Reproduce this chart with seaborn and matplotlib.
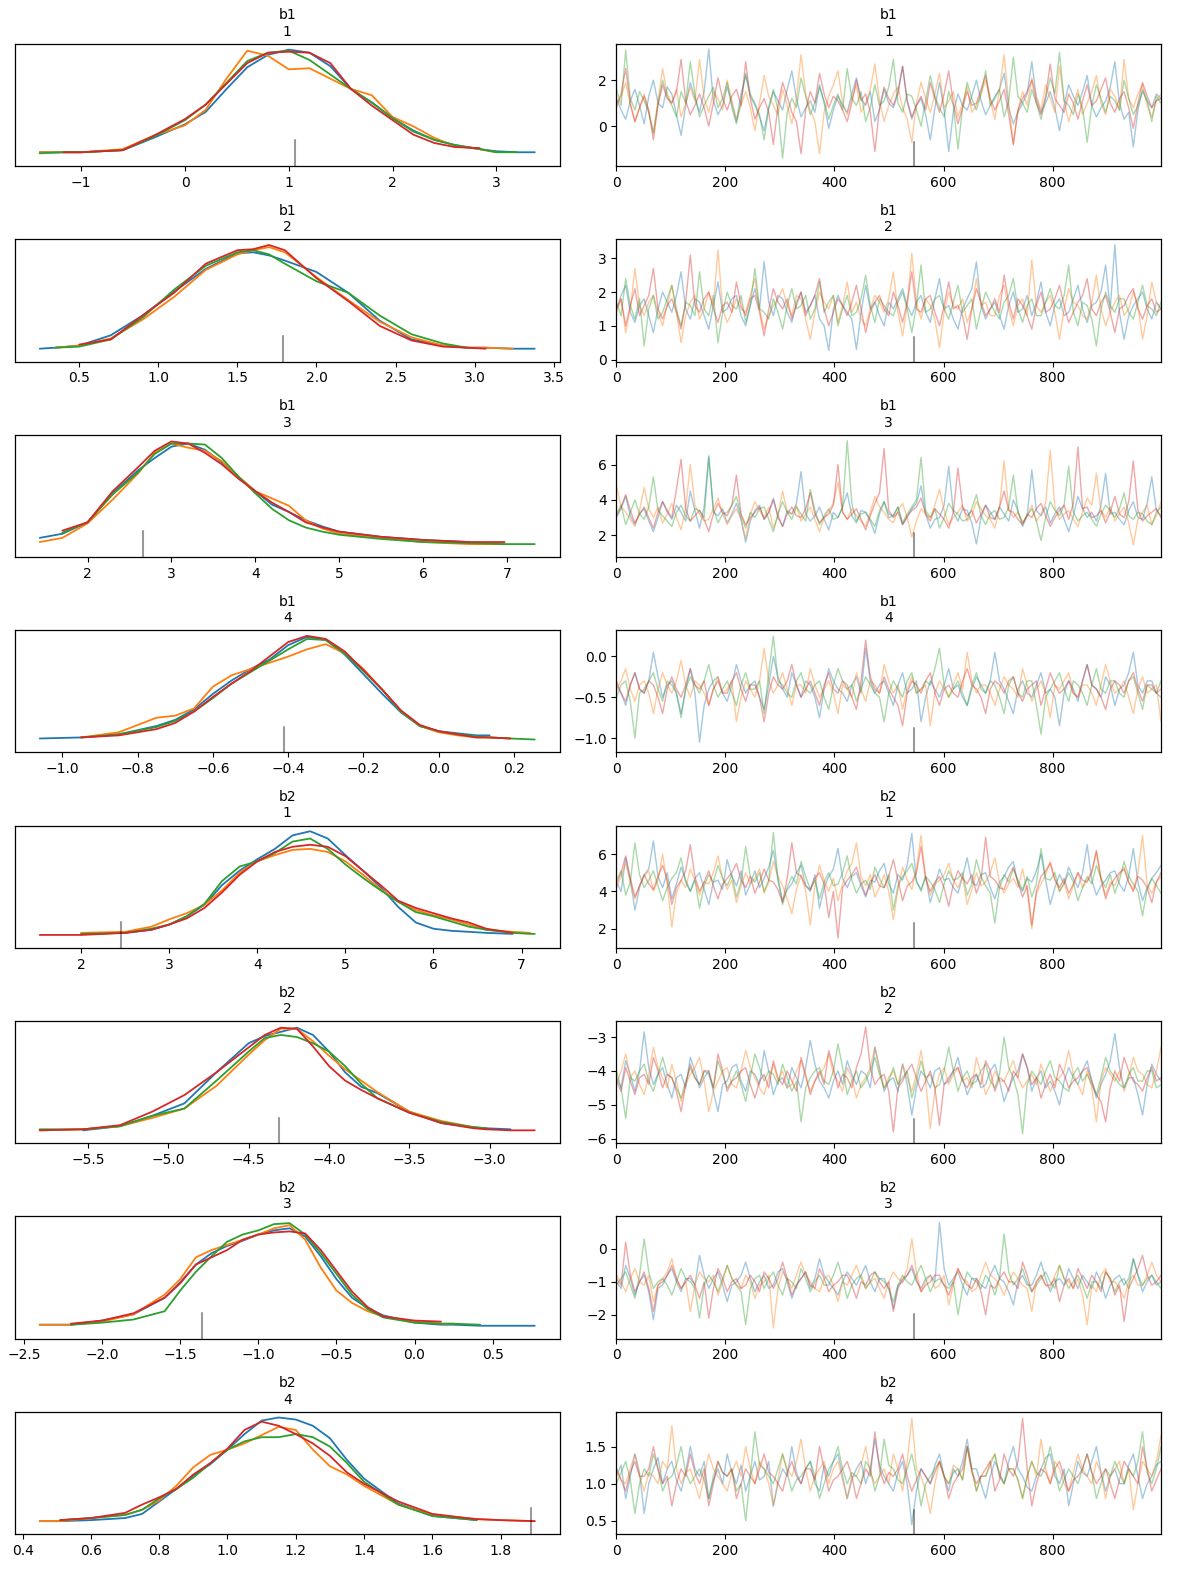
import numpy as np
import pandas as pd
import matplotlib
matplotlib.use("Agg")
import matplotlib.pyplot as plt
import seaborn as sns

sns.set_style("ticks", {"axes.edgecolor": "black", "xtick.color": "black",
                        "ytick.color": "black", "text.color": "black"})
plt.rcParams["font.family"] = ["DejaVu Sans"]
plt.rcParams["font.size"] = 10

chains = ["0", "1", "2", "3"]
palette = ["#1f77b4", "#ff7f0e", "#2ca02c", "#d62728"]

var_names = ["b1", "b1", "b1", "b1", "b2", "b2", "b2", "b2"]
var_index = ["1", "2", "3", "4", "1", "2", "3", "4"]

# divergent sample: draw index and its value for each parameter
div_draw = 545
div_value = [1.06, 1.79, 2.66, -0.41, 2.45, -4.31, -1.36, 1.89]

# y limits of the trace panels
trace_ylim = [(-1.74, 3.57), (-0.06, 3.56), (0.77, 7.68), (-1.175, 0.32),
              (0.98, 7.52), (-6.13, -2.53), (-2.72, 0.98), (0.322, 1.967)]

# ---- KDE curves, heights relative to the tallest peak (=100) ----
N = None
kde_b1_1_x = [-1.4, -1.17, -1.0, -0.6, -0.3, 0.0, 0.2, 0.4, 0.6, 0.8, 1.0, 1.2, 1.4, 1.6, 1.8, 2.0, 2.2, 2.4, 2.6, 2.84, 3.0, 3.2, 3.37]
kde_b1_1 = [
    [1, 1, 1, 3, 15, 28, 40, 62, 83, 95, 100, 97, 84, 62, 49, 34, 22, 13, 8, 4, 2, 1, 1],
    [1, 1, 1, 4, 17, 27, 42, 72, 99, 94, 81, 82, 72, 62, 56, 35, 26, 15, 7, 4, 1, N, N],
    [0, 1, 1, 3, 16, 32, 47, 68, 89, 97, 99, 90, 76, 62, 49, 34, 21, 13, 8, 4, 1, 1, N],
    [N, 1, 1, 3, 17, 33, 47, 67, 87, 97, 98, 97, 87, 62, 46, 32, 18, 10, 6, 5, N, N, N],
]
kde_b1_2_x = [0.25, 0.35, 0.5, 0.7, 0.9, 1.1, 1.3, 1.5, 1.6, 1.7, 1.8, 2.0, 2.2, 2.4, 2.6, 2.8, 2.95, 3.07, 3.24, 3.38]
kde_b1_2 = [
    [0, 1, 3, 13, 32, 55, 77, 92, 93, 90, 85, 74, 54, 27, 9, 3, 1, 1, 0, 0],
    [N, 1, 3, 10, 28, 50, 76, 91, 95, 98, 93, 69, 47, 26, 11, 3, 1, 1, 0, N],
    [N, 1, 2, 9, 30, 57, 80, 93, 95, 91, 82, 65, 54, 32, 14, 5, 1, N, N, N],
    [N, N, 4, 9, 32, 54, 82, 95, 96, 100, 95, 68, 46, 22, 8, 2, 1, 0, N, N],
]
kde_b1_3_x = [1.43, 1.7, 2.0, 2.3, 2.6, 2.8, 3.0, 3.2, 3.4, 3.6, 3.8, 4.0, 4.2, 4.4, 4.6, 4.8, 5.0, 5.5, 6.0, 6.55, 6.97, 7.33]
kde_b1_3 = [
    [6, 10, 21, 49, 71, 83, 94, 97, 91, 79, 65, 51, 38, 31, 23, 17, 12, 7, 4, 2, N, N],
    [2, 6, 20, 43, 68, 88, 97, 93, 90, 80, 65, 51, 44, 37, 23, 15, 10, 6, 2, 0, 0, N],
    [N, 11, 21, 48, 69, 87, 97, 97, 96, 83, 65, 49, 34, 23, 16, 12, 9, 5, 2, 1, 0, 0],
    [N, 13, 21, 51, 74, 90, 99, 97, 88, 77, 63, 51, 40, 31, 21, 16, 12, 7, 4, 2, 2, N],
]
kde_b1_4_x = [-1.06, -0.95, -0.85, -0.75, -0.7, -0.65, -0.6, -0.55, -0.5, -0.45, -0.4, -0.35, -0.3, -0.25, -0.2, -0.15, -0.1, -0.05, 0.0, 0.05, 0.1, 0.135, 0.19, 0.255]
kde_b1_4 = [
    [1, 2, 5, 13, 19, 29, 44, 57, 68, 77, 91, 99, 96, 82, 63, 44, 26, 13, 8, 6, 4, 4, N, N],
    [N, 2, 7, 21, 23, 30, 51, 62, 68, 74, 80, 87, 92, 83, 68, 48, 27, 13, 7, 4, 2, 2, 1, N],
    [N, 2, 5, 12, 18, 27, 40, 54, 65, 76, 87, 97, 96, 83, 66, 48, 27, 13, 8, 5, 3, 2, 1, 0],
    [N, 2, 4, 10, 16, 27, 41, 54, 66, 80, 94, 100, 97, 85, 67, 48, 28, 14, 8, 5, 2, 2, 1, N],
]
kde_b2_1_x = [1.53, 2.0, 2.5, 2.8, 3.0, 3.2, 3.4, 3.6, 3.8, 4.0, 4.2, 4.4, 4.6, 4.8, 5.0, 5.2, 5.4, 5.6, 5.8, 6.0, 6.2, 6.4, 6.6, 6.9, 7.1, 7.15]
kde_b2_1 = [
    [N, 1, 2, 5, 10, 18, 29, 48, 62, 73, 83, 96, 100, 93, 77, 62, 46, 27, 12, 6, 4, 3, 2, 1, N, N],
    [N, 2, 3, 8, 15, 21, 29, 43, 60, 71, 77, 82, 83, 80, 71, 58, 44, 32, 24, 19, 15, 10, 5, 3, 2, N],
    [N, 1, 2, 6, 10, 18, 30, 52, 66, 71, 79, 90, 93, 83, 68, 55, 43, 32, 22, 18, 13, 8, 5, 2, 1, 1],
    [0, 0, 2, 5, 10, 16, 26, 41, 58, 71, 80, 85, 87, 85, 76, 62, 48, 33, 26, 21, 16, 12, 6, 2, N, N],
]
kde_b2_2_x = [-5.8, -5.53, -5.3, -5.1, -4.9, -4.7, -4.5, -4.4, -4.3, -4.2, -4.1, -4.0, -3.9, -3.8, -3.7, -3.5, -3.3, -3.1, -3.02, -2.87, -2.72]
kde_b2_2 = [
    [N, 0, 4, 14, 26, 56, 84, 91, 95, 99, 92, 76, 56, 42, 36, 18, 7, 3, 2, 1, N],
    [0, 1, 4, 12, 21, 43, 73, 87, 98, 98, 86, 72, 59, 48, 37, 18, 9, 3, 1, N, N],
    [1, 1, 4, 14, 21, 48, 76, 89, 92, 90, 84, 76, 62, 45, 31, 17, 8, 3, 2, N, N],
    [0, 1, 5, 18, 34, 56, 80, 92, 99, 98, 81, 62, 48, 39, 31, 17, 7, 2, 1, 0, 0],
]
kde_b2_3_x = [-2.4, -2.2, -2.0, -1.8, -1.6, -1.5, -1.4, -1.3, -1.2, -1.1, -1.0, -0.9, -0.8, -0.7, -0.6, -0.5, -0.4, -0.3, -0.2, 0.0, 0.17, 0.25, 0.42, 0.6, 0.77]
kde_b2_3 = [
    [1, 1, 5, 11, 27, 42, 59, 70, 77, 82, 88, 92, 94, 86, 67, 45, 27, 17, 10, 3, 1, 1, 0, 0, 0],
    [1, 1, 4, 11, 30, 45, 66, 73, 78, 83, 88, 94, 97, 83, 56, 34, 22, 14, 9, 4, 2, 2, N, N, N],
    [N, 1, 3, 6, 14, 34, 52, 67, 81, 88, 92, 98, 99, 88, 70, 50, 30, 16, 8, 3, 2, 2, 1, N, N],
    [N, 2, 5, 12, 27, 41, 59, 66, 73, 83, 88, 90, 91, 89, 73, 53, 33, 18, 9, 5, 4, N, N, N, N],
]
kde_b2_4_x = [0.45, 0.51, 0.6, 0.7, 0.75, 0.8, 0.85, 0.9, 0.95, 1.0, 1.05, 1.1, 1.15, 1.2, 1.25, 1.3, 1.35, 1.4, 1.5, 1.6, 1.7, 1.73, 1.8, 1.9]
kde_b2_4 = [
    [0, 0, 1, 3, 7, 19, 31, 44, 55, 69, 84, 97, 100, 98, 92, 80, 59, 41, 17, 5, 2, 1, N, N],
    [0, 0, 3, 6, 11, 20, 34, 52, 64, 69, 75, 83, 91, 88, 69, 53, 45, 34, 16, 6, 3, 2, 1, 0],
    [N, 1, 3, 6, 11, 22, 31, 42, 56, 69, 77, 81, 81, 84, 81, 72, 56, 38, 16, 5, 2, 1, N, N],
    [N, 1, 3, 8, 16, 23, 31, 45, 56, 70, 88, 96, 92, 84, 75, 63, 47, 36, 19, 7, 3, 2, 1, 0],
]

# ---- chain traces, coarse reading (about every 8 draws) ----
trace_b1_1 = [
    [1.2, 0.7, 0.3, 1.1, 1.6, 0.9, 0.1, 1.3, 2.0, 1.0, 0.8, 1.7, 1.4, 0.5, -0.4, 0.9, 1.9, 1.2, 0.6, 1.5, 3.35, 1.1, 0.5, 0.9, 1.7, 1.0, 0.2, 1.4, 2.2, 1.3, 0.9, 0.4, -0.2, 0.8, 1.5, 1.1, 0.7, 1.6, 2.4, 1.2, 0.4, 0.8, 1.1, 0.6, 1.8, 1.0, -0.1, 0.7, 1.3, 0.9, 0.6, 1.4, 2.1, 1.2, 0.9, 1.5, 0.2, 0.7, 1.6, 1.0, 0.8, 1.4, 2.6, 1.1, 0.3, 0.9, 1.2, 0.5, -0.6, 0.8, 1.9, 0.7, -1.1, 0.6, 1.4, 0.9, 0.7, 1.3, 2.0, 1.1, 0.5, 0.9, 1.3, 1.6, 2.3, 0.8, 0.1, 0.6, 1.0, 1.4, 2.8, 1.2, 0.6, 1.0, 1.5, 0.8, -0.2, 0.9, 1.8, 1.3, 0.9, 1.5, 2.2, 0.9, 0.4, 0.8, 1.1, 1.7, 2.8, 1.0, 0.3, 0.6, -0.9, 0.7, 1.6, 1.1, 0.8, 1.4, 1.2],
    [0.8, 1.3, 1.9, 0.9, 0.2, 0.8, 1.4, 0.6, -0.3, 1.1, 2.5, 1.4, 1.0, 1.6, 0.4, 1.0, 1.7, 1.1, 2.9, 1.2, 0.6, 1.5, 1.2, 0.7, 2.0, 1.1, 0.3, 0.9, 1.5, 0.8, -0.2, 1.0, 2.2, 1.3, 0.9, 0.5, 1.6, 0.9, 0.1, 1.2, 3.1, 1.4, 0.7, 0.2, -1.2, 0.6, 1.3, 1.8, 2.4, 1.0, 0.5, 1.2, 1.8, 0.6, 1.0, 1.6, 2.7, 1.1, 0.2, 0.9, 1.4, 1.7, 0.8, 0.3, -0.7, 1.0, 1.9, 1.2, 0.6, 1.4, 2.3, 0.8, 1.1, 1.5, 0.4, 1.0, 1.7, 0.6, 0.9, 1.4, 2.0, 1.1, 0.3, 1.6, 3.1, 1.0, -0.8, 0.7, 1.5, 0.9, 2.1, 1.3, 0.7, 1.8, 1.2, 0.6, 2.6, 1.1, 0.2, 0.9, 1.6, 0.5, 1.0, 1.5, 2.2, 1.0, 0.5, 1.6, 1.3, 0.7, 2.9, 1.2, 0.8, 1.4, 1.8, 0.9, 0.4, 1.1, 1.4],
    [1.6, 0.9, 3.3, 1.2, 0.7, 1.5, 1.1, 0.6, -0.3, 1.0, 2.0, 1.3, 0.9, 0.4, 1.5, 1.0, 2.8, 1.4, 0.4, 0.9, 1.3, 1.7, 0.8, 1.2, 1.9, 0.8, 0.1, 1.1, 2.3, 1.4, 1.0, 0.5, -0.6, 0.8, 1.6, 0.7, -1.4, 0.6, 1.2, 0.8, 2.1, 1.3, 0.5, 1.0, 1.7, 1.1, 0.3, 0.9, 1.4, 0.7, 2.5, 1.2, 0.9, 1.5, 0.2, 0.8, 1.8, 0.9, 1.1, 1.7, 2.9, 1.0, 0.6, 1.4, 1.3, 0.7, 0.0, 1.1, 2.2, 1.3, 0.8, 0.4, 1.5, 0.9, -1.0, 0.8, 1.9, 1.2, 0.7, 1.4, 2.4, 0.9, 1.2, 1.6, 0.4, 1.1, 3.0, 1.3, 1.0, 0.6, 1.6, 1.0, 0.3, 1.2, 2.1, 1.4, 3.2, 1.1, 0.9, 0.5, 1.4, 0.8, -0.7, 0.9, 1.8, 1.2, 0.6, 1.3, 1.1, 0.7, 2.0, 1.2, 0.5, 0.9, 1.5, 1.1, 0.2, 1.3, 1.0],
    [0.9, 1.4, 2.5, 1.0, 0.2, 0.8, 1.3, 0.7, -0.6, 0.9, 1.8, 1.2, 1.0, 1.5, 2.9, 1.1, 0.5, 0.9, 1.4, 0.8, 0.0, 1.0, 2.1, 1.2, 0.7, 1.3, 1.6, 0.9, 2.8, 1.2, 0.3, 0.8, 1.2, 0.6, -0.8, 0.9, 1.9, 1.3, 0.6, 0.2, -1.2, 0.7, 1.5, 1.0, 2.3, 1.4, 0.8, 1.3, 1.1, 0.7, 0.2, 1.0, 2.0, 1.1, 1.4, 0.6, -1.1, 0.8, 1.7, 1.2, 0.9, 1.5, 2.6, 1.1, 0.4, 0.9, 1.3, 0.7, 1.9, 1.2, 0.6, 1.4, 2.4, 1.0, 0.1, 0.8, 1.5, 0.9, 1.0, 1.6, 2.2, 1.2, 0.7, 1.1, 1.6, 0.5, -0.8, 0.7, 1.2, 1.5, 2.0, 1.0, 0.5, 1.3, 2.7, 1.2, 0.9, 0.6, 1.4, 1.0, 0.3, 1.1, 1.8, 0.9, 1.1, 1.6, 2.1, 1.0, 0.6, 1.2, 1.5, 0.8, -0.1, 1.0, 1.9, 1.3, 0.8, 1.1, 1.2],
]
trace_b1_2 = [
    [1.5, 1.9, 2.2, 1.4, 1.1, 1.6, 1.8, 1.3, 0.8, 1.5, 2.0, 1.7, 1.4, 1.9, 2.6, 1.5, 1.2, 1.8, 1.7, 1.3, 0.9, 1.6, 2.3, 1.4, 1.5, 1.8, 1.9, 1.3, 1.0, 1.6, 2.1, 1.5, 2.9, 1.7, 1.3, 1.9, 1.8, 1.4, 1.1, 1.7, 2.0, 1.4, 1.6, 1.9, 1.2, 1.0, 0.27, 1.5, 1.9, 1.6, 1.4, 1.2, 0.3, 1.4, 2.2, 1.5, 1.7, 1.3, 1.0, 1.7, 1.5, 1.8, 2.1, 1.6, 1.3, 1.7, 1.9, 1.4, 1.1, 1.8, 2.4, 1.5, 1.6, 1.2, 0.9, 1.5, 1.8, 2.1, 2.9, 1.6, 1.2, 1.5, 1.7, 1.3, 0.9, 1.6, 2.0, 1.4, 1.5, 1.9, 1.3, 1.7, 2.3, 1.4, 1.0, 1.6, 1.8, 1.3, 1.4, 1.8, 2.2, 1.5, 1.1, 1.6, 1.7, 2.0, 2.8, 1.5, 3.4, 1.4, 0.6, 1.3, 1.6, 1.8, 2.0, 1.5, 1.2, 1.7, 1.5],
    [1.4, 1.8, 0.8, 1.5, 2.7, 1.6, 1.3, 1.7, 1.9, 1.4, 1.0, 1.6, 2.2, 1.4, 0.5, 1.3, 1.7, 1.9, 1.2, 1.5, 2.0, 1.6, 3.25, 1.5, 1.1, 1.4, 1.8, 1.5, 1.4, 1.9, 2.4, 1.5, 0.9, 1.3, 1.6, 1.8, 2.1, 1.6, 1.3, 1.9, 1.8, 1.2, 0.6, 1.4, 2.0, 1.7, 1.5, 1.9, 1.1, 1.6, 2.3, 1.4, 1.7, 1.2, 1.0, 1.5, 1.9, 1.7, 1.4, 1.8, 2.6, 1.4, 0.7, 1.6, 3.15, 1.7, 1.2, 1.8, 1.6, 1.2, 0.35, 1.4, 2.0, 1.6, 1.5, 1.8, 1.1, 1.5, 2.4, 1.6, 1.7, 1.3, 1.3, 1.9, 2.2, 1.5, 1.0, 1.6, 1.8, 1.3, 2.95, 1.6, 1.4, 1.7, 1.9, 1.4, 0.6, 1.5, 2.1, 1.7, 1.6, 1.3, 1.2, 1.7, 2.5, 1.5, 1.0, 1.4, 1.7, 1.9, 1.3, 1.5, 2.0, 1.6, 0.6, 1.3, 2.3, 1.7, 1.5],
    [1.7, 1.3, 2.4, 1.6, 1.2, 1.8, 0.4, 1.5, 1.9, 1.2, 1.4, 1.8, 2.2, 1.5, 1.0, 1.7, 1.6, 1.3, 2.6, 1.5, 1.3, 1.9, 0.5, 1.4, 2.0, 1.6, 1.5, 1.9, 1.1, 1.6, 2.7, 1.5, 1.4, 1.2, 1.8, 1.4, 0.9, 1.6, 2.1, 1.5, 1.6, 1.9, 1.2, 1.5, 2.3, 1.4, 1.7, 1.9, 1.0, 1.5, 1.9, 1.3, 1.4, 1.8, 2.5, 1.6, 1.1, 1.8, 1.6, 1.4, 1.3, 1.7, 2.0, 1.5, 0.8, 1.6, 2.8, 1.4, 1.5, 1.8, 1.9, 1.5, 1.2, 1.7, 2.2, 1.4, 1.6, 1.8, 0.9, 1.5, 2.0, 1.7, 1.4, 1.2, 1.7, 1.9, 2.4, 1.5, 1.1, 1.6, 1.8, 1.3, 1.3, 1.7, 2.1, 1.6, 1.5, 1.9, 2.8, 1.4, 1.0, 1.7, 1.6, 1.2, 0.4, 1.5, 2.0, 1.6, 1.4, 1.8, 1.8, 1.4, 1.2, 1.7, 2.2, 1.6, 1.5, 1.3, 1.7],
    [1.5, 1.8, 1.0, 1.6, 2.1, 1.3, 1.6, 1.9, 2.7, 1.5, 1.2, 1.6, 1.8, 1.4, 0.9, 1.7, 3.1, 1.6, 1.4, 1.8, 2.0, 1.5, 1.1, 1.6, 1.7, 1.4, 2.3, 1.6, 1.3, 1.8, 1.9, 1.4, 0.7, 1.5, 2.1, 1.7, 1.5, 1.8, 1.2, 1.6, 2.0, 1.3, 1.6, 1.9, 2.4, 1.5, 1.0, 1.4, 1.8, 1.6, 1.3, 1.7, 2.2, 1.5, 0.8, 1.4, 1.7, 1.9, 1.5, 1.3, 2.0, 1.6, 1.1, 1.7, 2.6, 1.5, 1.4, 1.8, 1.9, 1.4, 1.0, 1.6, 2.3, 1.5, 1.6, 1.3, 0.6, 1.5, 2.1, 1.7, 1.3, 1.5, 1.8, 1.4, 2.5, 1.7, 1.2, 1.8, 1.6, 1.3, 0.9, 1.6, 2.0, 1.4, 1.5, 1.8, 2.2, 1.6, 1.1, 1.4, 1.7, 1.9, 2.4, 1.5, 1.3, 1.7, 1.9, 1.4, 0.8, 1.5, 1.6, 1.9, 2.1, 1.5, 1.2, 1.6, 1.8, 1.4, 1.5],
]
trace_b1_3 = [
    [3.0, 3.5, 4.2, 3.1, 2.6, 3.2, 3.5, 2.8, 2.2, 3.0, 3.9, 3.3, 2.9, 3.7, 3.3, 2.8, 4.5, 3.4, 2.4, 3.6, 6.5, 3.3, 3.1, 3.5, 2.7, 3.2, 3.8, 2.9, 1.6, 2.8, 3.4, 3.7, 2.9, 3.3, 4.1, 3.0, 2.5, 3.4, 3.2, 3.8, 5.6, 3.2, 2.8, 3.1, 3.6, 2.9, 2.3, 3.3, 3.0, 3.6, 4.4, 3.1, 2.7, 3.4, 3.3, 2.8, 2.1, 3.2, 3.9, 3.0, 3.1, 3.6, 2.6, 3.0, 3.5, 3.8, 4.8, 3.2, 2.4, 2.9, 3.0, 3.7, 5.9, 3.3, 2.8, 3.5, 3.4, 2.7, 1.5, 3.0, 3.7, 3.3, 2.9, 3.6, 3.2, 2.8, 4.0, 3.4, 2.5, 3.1, 5.7, 3.4, 3.1, 3.6, 2.7, 3.2, 3.6, 2.9, 2.2, 3.1, 4.2, 3.5, 3.0, 3.3, 2.8, 3.7, 5.5, 3.2, 3.3, 2.9, 2.6, 3.4, 3.9, 3.0, 2.9, 3.8, 5.3, 3.4, 3.1],
    [4.8, 3.6, 3.3, 2.9, 2.5, 3.4, 4.7, 3.5, 3.0, 3.6, 2.7, 3.2, 3.8, 3.0, 2.3, 3.5, 6.0, 3.7, 3.2, 2.8, 2.9, 3.5, 4.1, 3.2, 2.6, 3.1, 3.5, 2.9, 1.8, 3.2, 3.9, 3.4, 3.0, 3.6, 2.4, 3.1, 4.5, 3.3, 3.2, 3.7, 2.8, 3.2, 3.6, 2.9, 2.2, 3.0, 3.4, 3.8, 5.0, 3.3, 2.9, 3.5, 3.1, 2.8, 2.5, 3.3, 4.2, 3.6, 3.3, 2.9, 2.7, 3.4, 3.8, 3.0, 1.9, 2.8, 3.5, 3.2, 3.0, 3.7, 4.6, 3.4, 2.6, 3.0, 3.3, 3.7, 2.8, 3.1, 3.9, 3.5, 3.1, 2.9, 2.4, 3.6, 6.2, 3.5, 3.0, 3.3, 2.7, 3.1, 3.7, 2.8, 3.2, 3.8, 6.8, 3.6, 2.9, 3.2, 3.4, 2.9, 2.5, 3.3, 4.1, 3.7, 5.5, 3.4, 3.0, 3.6, 2.8, 3.2, 3.6, 2.7, 1.45, 2.9, 3.3, 3.7, 2.6, 3.1, 3.9],
    [3.2, 3.7, 2.6, 3.3, 4.0, 3.2, 2.9, 3.6, 5.3, 3.4, 3.1, 2.8, 2.5, 3.3, 3.7, 3.1, 2.8, 3.5, 3.4, 3.0, 6.4, 3.5, 2.7, 3.2, 3.3, 3.7, 4.2, 3.1, 2.4, 3.3, 3.0, 3.5, 3.6, 2.9, 2.2, 3.2, 3.9, 3.3, 2.9, 3.6, 3.2, 2.8, 4.6, 3.4, 2.6, 3.1, 3.5, 2.9, 3.0, 3.6, 7.35, 3.8, 2.8, 3.2, 3.3, 2.9, 2.5, 3.4, 3.9, 3.2, 3.1, 3.6, 2.7, 3.2, 3.6, 4.0, 6.4, 3.4, 3.0, 3.5, 2.4, 3.0, 3.8, 3.4, 3.2, 2.8, 2.9, 3.5, 4.3, 3.1, 2.6, 3.2, 3.4, 2.9, 3.0, 3.6, 5.4, 3.3, 2.7, 3.1, 3.5, 2.8, 1.7, 3.0, 3.9, 3.4, 3.1, 3.7, 5.9, 3.3, 2.8, 3.1, 3.3, 2.9, 2.5, 3.2, 3.7, 3.4, 3.0, 3.5, 4.4, 3.1, 2.9, 3.3, 3.2, 2.8, 2.6, 3.3, 3.6],
    [3.1, 3.6, 4.3, 3.4, 2.7, 3.2, 3.6, 3.0, 2.4, 3.3, 3.9, 3.4, 3.0, 4.6, 6.3, 3.5, 2.8, 3.1, 3.4, 2.9, 2.2, 3.2, 3.8, 3.3, 3.1, 3.7, 5.4, 3.2, 2.6, 3.0, 3.3, 3.6, 2.9, 3.3, 4.0, 3.1, 2.5, 3.2, 3.6, 3.1, 3.0, 3.5, 4.4, 3.2, 2.7, 3.0, 3.2, 3.7, 6.0, 3.3, 2.9, 3.2, 3.5, 2.9, 2.3, 3.1, 3.8, 4.4, 6.9, 3.4, 3.0, 3.3, 2.6, 3.1, 3.4, 3.6, 4.1, 3.2, 2.8, 3.5, 3.2, 2.9, 2.4, 3.3, 5.8, 3.6, 3.1, 3.4, 2.7, 3.2, 3.7, 3.0, 2.9, 3.6, 4.5, 3.4, 3.3, 2.9, 2.6, 3.2, 3.0, 3.5, 3.8, 3.1, 2.5, 3.0, 3.4, 3.7, 2.9, 3.8, 7.0, 3.5, 3.6, 3.0, 3.1, 3.4, 2.7, 3.3, 4.2, 3.2, 3.0, 3.9, 6.2, 3.4, 2.8, 3.1, 3.3, 3.5, 3.0],
]
trace_b1_4 = [
    [-0.35, -0.45, -0.6, -0.35, -0.2, -0.4, -0.45, -0.3, 0.05, -0.25, -0.5, -0.35, -0.3, -0.45, -0.7, -0.4, -0.15, -0.45, -1.05, -0.6, -0.4, -0.3, -0.25, -0.45, -0.55, -0.35, -0.1, -0.3, -0.45, -0.35, -0.3, -0.5, -0.65, -0.35, 0.0, -0.25, -0.4, -0.5, -0.2, -0.35, -0.5, -0.3, -0.35, -0.5, -0.75, -0.4, -0.15, -0.3, -0.4, -0.45, -0.55, -0.35, -0.25, -0.45, 0.1, -0.3, -0.45, -0.35, -0.3, -0.45, -0.6, -0.35, -0.2, -0.45, -0.4, -0.3, -0.8, -0.5, -0.3, -0.4, -0.5, -0.35, -0.15, -0.4, -0.35, -0.5, -0.6, -0.4, -0.25, -0.35, -0.45, -0.3, 0.05, -0.3, -0.4, -0.55, -0.7, -0.4, -0.3, -0.45, -0.5, -0.35, -0.2, -0.45, -0.4, -0.5, -0.85, -0.45, -0.3, -0.4, -0.55, -0.3, -0.1, -0.35, -0.4, -0.5, -0.25, -0.35, -0.6, -0.4, -0.35, -0.2, 0.05, -0.35, -0.45, -0.3, -0.3, -0.45, -0.5],
    [-0.4, -0.3, -0.15, -0.4, -0.55, -0.35, -0.3, -0.45, -0.7, -0.4, -0.2, -0.35, -0.45, -0.3, -0.05, -0.35, -0.5, -0.3, -0.35, -0.45, -0.6, -0.4, -0.25, -0.45, -0.4, -0.3, -0.8, -0.5, -0.3, -0.4, -0.5, -0.3, 0.1, -0.3, -0.45, -0.35, -0.2, -0.4, -0.6, -0.35, -0.35, -0.45, -0.15, -0.35, -0.5, -0.4, -0.3, -0.45, -0.7, -0.35, -0.4, -0.5, -0.2, -0.4, -0.55, -0.3, -0.35, -0.45, -0.1, -0.3, -0.45, -0.35, -0.65, -0.4, -0.25, -0.45, -0.4, -0.35, -0.85, -0.45, -0.3, -0.4, -0.5, -0.35, -0.2, -0.4, 0.05, -0.3, -0.45, -0.35, -0.35, -0.45, -0.6, -0.4, -0.25, -0.35, -0.4, -0.5, -0.15, -0.35, -0.55, -0.4, -0.3, -0.45, -0.75, -0.35, -0.4, -0.3, -0.2, -0.45, -0.5, -0.35, -0.35, -0.45, -0.6, -0.35, -0.1, -0.3, -0.45, -0.4, -0.3, -0.5, -0.7, -0.4, -0.25, -0.45, -0.4, -0.35, -0.8],
    [-0.5, -0.35, -0.3, -0.55, -1.0, -0.45, -0.4, -0.3, -0.2, -0.4, -0.55, -0.3, -0.35, -0.45, -0.75, -0.4, -0.25, -0.35, -0.45, -0.3, -0.1, -0.35, -0.5, -0.4, -0.3, -0.45, -0.6, -0.35, -0.2, -0.4, -0.4, -0.3, -0.7, -0.2, 0.25, -0.3, -0.35, -0.45, -0.5, -0.3, -0.2, -0.4, -0.45, -0.35, -0.3, -0.5, -0.65, -0.35, -0.15, -0.3, -0.4, -0.35, -0.55, -0.4, -0.25, -0.35, -0.45, -0.5, -0.8, -0.45, -0.3, -0.4, -0.5, -0.3, -0.2, -0.45, -0.4, -0.3, -0.35, -0.15, 0.1, -0.35, -0.5, -0.4, -0.3, -0.45, -0.6, -0.35, -0.2, -0.4, -0.45, -0.3, -0.35, -0.5, -0.7, -0.35, -0.25, -0.45, -0.5, -0.3, -0.3, -0.6, -0.95, -0.5, -0.4, -0.3, -0.2, -0.4, -0.55, -0.3, -0.35, -0.45, -0.6, -0.35, -0.15, -0.4, -0.45, -0.3, -0.3, -0.45, -0.5, -0.3, -0.25, -0.45, -0.65, -0.35, -0.4, -0.45, -0.3],
    [-0.3, -0.45, -0.55, -0.35, -0.2, -0.4, -0.45, -0.3, -0.35, -0.5, -0.7, -0.4, -0.25, -0.4, -0.5, -0.35, -0.15, -0.35, -0.4, -0.3, -0.6, -0.4, -0.3, -0.45, -0.45, -0.3, -0.2, -0.4, -0.55, -0.35, -0.35, -0.5, -0.8, -0.45, -0.25, -0.35, -0.4, -0.3, -0.1, -0.35, -0.5, -0.4, -0.3, -0.45, -0.6, -0.35, -0.2, -0.4, -0.45, -0.3, -0.35, -0.5, -0.65, -0.3, 0.2, -0.25, -0.4, -0.45, -0.25, -0.4, -0.5, -0.6, -0.85, -0.45, -0.3, -0.35, -0.45, -0.3, -0.2, -0.45, -0.6, -0.4, -0.35, -0.45, -0.5, -0.3, -0.15, -0.35, -0.4, -0.5, -0.7, -0.4, -0.3, -0.35, -0.45, -0.3, -0.25, -0.45, -0.55, -0.4, -0.35, -0.3, -0.6, -0.4, -0.2, -0.35, -0.45, -0.4, -0.3, -0.45, -0.5, -0.3, -0.1, -0.35, -0.4, -0.5, -0.65, -0.4, -0.3, -0.35, -0.45, -0.3, -0.2, -0.4, -0.55, -0.35, -0.35, -0.45, -0.4],
]
trace_b2_1 = [
    [4.5, 4.0, 5.8, 4.6, 3.0, 4.2, 4.9, 5.2, 6.7, 4.8, 4.2, 5.0, 3.6, 4.4, 5.3, 4.6, 4.0, 4.7, 5.0, 4.1, 3.3, 4.5, 4.6, 4.1, 5.7, 4.8, 4.3, 5.1, 3.8, 4.4, 5.1, 4.2, 4.7, 5.3, 6.2, 4.6, 3.5, 4.1, 4.4, 5.0, 5.4, 4.3, 4.0, 4.9, 3.1, 4.2, 4.8, 5.2, 6.3, 4.7, 4.2, 4.8, 5.0, 4.3, 3.7, 4.6, 4.5, 5.1, 5.5, 4.4, 3.9, 4.9, 4.6, 5.4, 7.1, 4.5, 4.1, 4.8, 3.4, 4.3, 5.2, 4.6, 4.7, 4.2, 3.9, 4.8, 5.8, 4.5, 4.3, 4.9, 5.0, 4.2, 3.6, 4.5, 4.8, 5.3, 5.6, 4.4, 4.0, 4.7, 4.5, 5.1, 6.0, 4.6, 3.3, 4.2, 4.9, 4.4, 5.3, 4.7, 4.2, 5.0, 6.5, 4.6, 3.8, 4.3, 4.6, 5.0, 5.1, 4.4, 4.0, 4.8, 6.3, 4.5, 3.5, 4.2, 4.7, 5.0, 5.4],
    [4.2, 4.8, 5.5, 4.5, 3.6, 4.3, 4.8, 5.1, 4.0, 4.6, 6.0, 4.4, 2.1, 3.9, 4.6, 4.2, 5.2, 4.6, 3.8, 4.5, 4.4, 5.0, 5.9, 4.7, 4.1, 4.6, 3.4, 4.3, 5.0, 4.4, 4.7, 5.2, 3.9, 4.5, 5.6, 4.8, 4.3, 3.6, 2.8, 4.1, 4.9, 4.0, 2.2, 4.3, 5.4, 4.6, 4.0, 4.7, 3.5, 4.4, 5.1, 5.5, 6.6, 4.8, 4.3, 4.9, 3.7, 4.2, 4.9, 4.0, 2.5, 4.1, 5.3, 4.6, 4.1, 5.2, 7.0, 4.7, 3.8, 4.4, 4.6, 4.9, 5.5, 4.6, 4.2, 4.8, 3.3, 4.1, 5.0, 4.3, 4.5, 5.0, 5.8, 4.5, 3.9, 4.4, 4.7, 4.2, 5.2, 4.0, 2.0, 3.9, 4.4, 4.9, 5.6, 4.7, 4.0, 4.5, 3.6, 4.3, 5.0, 4.2, 4.6, 5.1, 6.1, 4.6, 3.8, 4.5, 4.3, 4.9, 5.3, 4.5, 4.1, 5.0, 7.0, 4.4, 3.9, 4.5, 4.8],
    [4.6, 5.1, 3.8, 4.5, 6.6, 4.9, 4.2, 4.6, 5.1, 4.3, 3.5, 4.2, 4.7, 5.0, 5.8, 4.5, 4.0, 4.6, 3.1, 4.3, 4.9, 4.5, 5.4, 4.7, 4.3, 4.9, 3.7, 4.5, 6.4, 4.8, 4.5, 5.0, 4.0, 4.6, 7.15, 4.7, 3.3, 4.2, 4.8, 4.4, 5.6, 4.8, 4.1, 4.6, 3.6, 4.5, 5.0, 4.3, 4.4, 5.0, 5.9, 4.6, 3.9, 4.4, 4.6, 4.1, 5.3, 4.7, 4.2, 4.9, 3.0, 4.3, 4.8, 5.1, 5.5, 4.6, 4.0, 4.8, 4.5, 4.1, 3.4, 4.4, 5.1, 4.6, 4.7, 5.0, 3.8, 4.4, 5.7, 4.8, 4.3, 3.9, 2.3, 4.2, 4.9, 4.5, 5.2, 4.6, 4.1, 4.8, 3.7, 4.4, 6.3, 4.7, 4.6, 5.0, 4.0, 4.4, 5.0, 4.5, 3.5, 4.2, 4.8, 4.4, 5.4, 4.7, 4.2, 4.9, 3.9, 4.6, 5.6, 4.8, 4.4, 4.0, 2.7, 4.1, 4.7, 4.3, 3.9],
    [4.4, 5.0, 5.9, 4.7, 3.7, 4.3, 4.9, 4.4, 4.1, 4.8, 5.4, 4.6, 3.3, 4.2, 4.6, 5.1, 6.5, 4.8, 4.0, 4.5, 5.1, 4.3, 3.6, 4.4, 4.7, 5.0, 5.5, 4.6, 4.2, 4.8, 3.9, 4.5, 5.2, 4.6, 4.5, 4.1, 3.4, 4.7, 6.6, 5.0, 4.8, 4.3, 4.1, 4.7, 5.0, 4.4, 2.6, 4.0, 1.5, 4.2, 4.6, 4.9, 5.3, 4.5, 3.8, 4.4, 4.9, 4.3, 4.2, 4.8, 5.7, 4.6, 3.5, 4.3, 4.5, 5.0, 6.4, 4.7, 4.0, 4.5, 4.8, 4.2, 3.2, 4.4, 5.1, 4.7, 4.4, 4.9, 3.9, 4.6, 6.9, 4.8, 4.6, 4.2, 4.1, 4.8, 5.3, 4.5, 3.7, 4.3, 2.2, 4.0, 4.8, 5.1, 5.5, 4.6, 4.2, 4.7, 3.9, 4.4, 5.0, 4.6, 4.5, 5.0, 6.2, 4.7, 3.6, 4.3, 4.7, 5.0, 5.2, 4.5, 4.0, 4.8, 4.6, 4.2, 3.4, 4.5, 5.0],
]
trace_b2_2 = [
    [-4.2, -4.5, -3.7, -4.1, -4.6, -4.0, -2.85, -3.9, -4.4, -4.1, -3.9, -4.4, -4.8, -4.2, -4.1, -4.5, -3.6, -4.0, -4.5, -4.2, -4.0, -4.6, -5.2, -4.4, -4.3, -3.9, -3.8, -4.3, -4.6, -4.0, -4.1, -4.4, -3.4, -4.0, -4.7, -4.3, -4.2, -4.5, -3.9, -4.2, -4.5, -3.9, -3.1, -3.8, -4.3, -4.5, -4.8, -4.3, -4.0, -4.4, -3.7, -4.1, -4.4, -4.0, -4.1, -4.5, -3.3, -3.9, -4.6, -4.3, -4.2, -4.6, -3.8, -4.4, -5.3, -4.5, -4.0, -4.2, -4.5, -4.0, -3.9, -4.4, -4.3, -4.0, -3.6, -4.2, -4.7, -4.4, -4.1, -4.5, -4.4, -4.0, -3.8, -4.3, -4.9, -4.5, -4.2, -4.0, -3.5, -3.9, -4.6, -4.2, -4.0, -4.5, -4.3, -4.6, -5.0, -4.3, -3.9, -4.2, -4.4, -4.0, -3.7, -4.3, -4.8, -4.4, -4.1, -3.7, -2.9, -3.9, -4.5, -4.2, -4.2, -4.7, -5.3, -4.4, -3.8, -4.1, -4.3],
    [-4.4, -4.0, -3.5, -4.2, -4.0, -4.4, -4.7, -4.1, -3.3, -3.9, -4.2, -4.5, -3.8, -4.3, -4.9, -4.4, -4.1, -3.9, -3.6, -4.3, -5.2, -4.6, -4.3, -4.0, -3.9, -4.4, -4.5, -4.0, -3.4, -3.9, -4.2, -4.5, -4.7, -4.2, -3.8, -4.3, -4.0, -4.5, -4.4, -4.0, -3.7, -4.2, -4.6, -4.3, -4.1, -3.9, -3.5, -4.1, -4.3, -4.6, -3.9, -4.2, -4.8, -4.4, -4.2, -3.9, -3.3, -4.0, -4.5, -4.2, -4.0, -4.4, -3.8, -4.2, -4.6, -4.1, -3.4, -4.3, -5.7, -4.6, -4.1, -3.9, -4.4, -4.1, -3.9, -4.3, -4.2, -4.5, -3.6, -4.1, -4.7, -4.4, -4.0, -4.3, -4.3, -4.0, -3.7, -4.2, -4.5, -4.3, -4.1, -4.4, -3.8, -4.2, -4.6, -4.3, -4.2, -4.0, -3.4, -4.1, -4.4, -4.7, -4.0, -4.5, -5.5, -4.3, -3.9, -4.1, -4.3, -4.0, -4.6, -4.2, -3.6, -4.0, -4.1, -4.4, -4.5, -4.0, -3.3],
    [-4.0, -4.5, -5.4, -4.2, -4.3, -4.0, -3.8, -4.3, -4.6, -4.1, -3.6, -4.1, -4.2, -4.5, -4.8, -4.3, -3.9, -4.2, -4.4, -4.0, -4.1, -4.5, -3.7, -4.1, -4.5, -4.3, -4.0, -4.4, -4.9, -4.2, -3.5, -3.9, -4.3, -4.0, -4.1, -4.4, -3.8, -4.2, -4.6, -4.3, -5.5, -4.5, -4.2, -4.0, -3.9, -4.3, -4.4, -4.0, -3.2, -3.9, -4.7, -4.3, -4.0, -4.5, -4.3, -4.0, -3.6, -4.1, -4.5, -4.3, -3.9, -4.4, -4.2, -4.0, -4.8, -4.3, -3.7, -4.2, -4.1, -4.5, -4.4, -4.0, -3.3, -4.0, -4.6, -4.2, -4.0, -4.4, -4.3, -4.0, -3.8, -4.3, -4.5, -4.1, -3.0, -3.9, -4.2, -4.7, -5.85, -4.4, -4.0, -4.2, -4.4, -4.0, -3.7, -4.2, -4.3, -4.5, -4.6, -4.1, -3.9, -4.3, -4.1, -4.4, -4.7, -4.2, -3.6, -4.0, -4.2, -4.4, -4.5, -4.1, -3.9, -4.3, -4.3, -4.0, -4.0, -4.5, -4.4],
    [-4.3, -4.6, -3.9, -4.3, -4.7, -4.2, -4.1, -4.4, -3.6, -4.0, -4.5, -4.1, -4.2, -4.6, -5.2, -4.4, -3.8, -4.2, -4.4, -4.0, -4.0, -4.5, -3.5, -4.0, -4.6, -4.3, -4.2, -4.0, -3.9, -4.4, -4.8, -4.3, -4.1, -4.5, -3.7, -4.2, -4.4, -4.0, -4.3, -4.6, -3.6, -4.1, -4.7, -4.3, -4.0, -4.4, -3.4, -3.9, -4.5, -4.1, -4.2, -4.5, -3.9, -3.5, -2.7, -3.9, -4.4, -4.2, -4.1, -4.6, -5.8, -4.5, -4.3, -4.0, -3.8, -4.2, -4.6, -4.3, -4.0, -4.5, -5.6, -4.4, -4.2, -4.0, -3.9, -4.3, -4.5, -4.2, -4.1, -4.4, -3.7, -4.0, -4.6, -4.2, -4.3, -4.6, -4.0, -4.2, -3.5, -3.9, -4.4, -4.2, -4.8, -4.4, -4.1, -4.5, -3.8, -4.1, -4.5, -4.3, -4.2, -4.0, -3.9, -4.3, -4.7, -4.9, -5.5, -4.5, -4.0, -4.3, -3.6, -4.0, -4.3, -4.4, -4.6, -4.2, -3.9, -4.3, -4.2],
]
trace_b2_3 = [
    [-1.0, -1.2, -0.5, -0.9, -1.4, -1.0, -0.8, -1.3, -2.15, -1.2, -1.1, -0.8, -0.6, -1.0, -1.3, -0.9, -0.9, -1.1, -0.2, -0.8, -1.2, -0.9, -0.7, -1.1, -1.6, -1.1, -1.0, -0.8, -0.4, -0.9, -1.3, -1.0, -0.8, -1.2, -1.1, -0.7, -0.6, -1.0, -1.5, -1.1, -0.9, -0.7, -1.2, -0.9, -0.3, -0.8, -1.0, -1.2, -1.4, -1.0, -0.7, -0.9, -1.1, -0.8, -0.5, -1.0, -1.3, -0.9, -0.9, -1.2, -1.8, -1.1, -1.0, -0.8, -0.6, -1.0, -1.2, -0.9, -0.8, -1.0, 0.8, -0.6, -1.1, -0.9, -0.7, -1.1, -1.4, -0.9, -0.9, -1.1, -1.2, -0.8, -0.5, -0.9, -1.0, -1.3, -1.7, -1.0, -0.8, -1.1, -1.1, -0.8, -0.4, -0.9, -1.3, -1.0, -0.9, -1.1, -0.6, -0.9, -1.2, -0.8, -1.0, -1.2, -0.7, -1.0, -1.5, -1.1, -0.9, -0.8, -1.1, -0.9, -0.3, -0.8, -1.3, -1.0, -0.8, -1.1, -1.0],
    [-0.8, -1.0, -1.3, -0.9, -0.6, -1.0, -1.1, -0.8, -1.6, -1.1, -0.9, -0.7, -0.3, -0.9, -1.2, -1.0, -1.9, -1.1, -0.7, -0.9, -1.0, -0.8, -1.4, -1.0, -0.5, -0.9, -1.1, -1.2, -0.8, -1.0, -1.5, -1.1, -1.0, -0.8, -2.4, -1.2, -0.7, -0.9, -1.2, -0.8, -0.4, -0.8, -1.0, -1.2, -1.3, -0.9, -0.8, -1.1, -1.6, -1.0, -1.1, -0.8, -0.5, -0.9, -1.2, -1.0, -0.9, -1.2, -1.5, -1.0, -0.7, -0.9, -1.0, -0.6, 0.3, -0.7, -1.3, -1.0, -0.8, -1.2, -1.1, -0.8, -1.7, -1.1, -0.6, -0.9, -1.0, -1.3, -1.2, -0.8, -0.4, -0.8, -0.9, -1.1, -1.4, -1.0, -0.7, -0.9, -1.1, -1.2, -1.9, -1.0, -0.8, -1.1, -1.2, -0.8, -0.5, -0.9, -1.0, -1.2, -0.9, -1.4, -2.3, -1.1, -1.3, -0.8, -0.6, -1.0, -1.0, -1.2, -1.5, -1.0, -0.8, -1.1, -1.1, -0.8, -0.4, -0.8, -1.0],
    [-1.1, -0.9, -0.7, -1.1, -1.5, -0.8, 0.3, -0.7, -1.2, -1.0, -0.9, -1.1, -1.4, -1.0, -0.6, -0.9, -1.0, -1.2, -2.1, -1.1, -0.8, -1.0, -1.3, -0.9, -0.5, -0.9, -1.1, -1.3, -2.3, -1.2, -0.9, -0.8, -1.2, -0.9, -0.7, -1.1, -1.4, -0.9, -1.0, -1.2, -0.6, -0.9, -1.3, -1.0, -0.8, -1.1, -1.1, -0.8, -0.4, -0.9, -1.5, -1.1, -0.9, -0.8, -1.2, -1.0, -0.7, -0.9, -1.0, -1.2, -1.6, -1.1, -0.8, -1.0, -1.1, -0.8, -0.5, -0.9, -1.3, -1.0, -0.9, -1.1, -1.2, -1.0, -2.0, -1.2, -0.7, -0.9, -1.0, -1.2, -0.8, -1.0, -1.4, -0.9, 0.45, -0.7, -1.1, -0.9, -0.6, -1.0, -1.3, -1.1, -0.9, -0.7, -1.0, -1.2, -0.5, -0.9, -1.2, -1.0, -0.8, -1.1, -1.5, -1.0, -1.0, -1.2, -0.7, -0.9, -1.3, -1.0, -0.9, -1.2, -0.3, -0.8, -1.1, -0.9, -0.8, -1.0, -1.2],
    [-0.9, -1.1, 0.2, -0.8, -1.3, -1.0, -0.7, -1.2, -1.9, -1.1, -1.0, -0.8, -0.5, -0.9, -1.2, -1.0, -0.8, -1.1, -1.5, -1.0, -2.1, -1.2, -0.6, -0.9, -1.3, -1.0, -0.9, -1.2, -1.1, -0.8, -1.0, -1.3, -0.7, -0.9, -1.2, -0.9, -0.4, -0.9, -1.4, -1.1, -0.9, -0.7, -1.1, -1.2, -0.6, -0.9, -1.3, -1.1, -1.0, -0.8, -0.8, -1.1, -1.5, -1.0, -1.1, -0.8, -0.7, -1.0, -1.2, -1.0, -1.9, -1.2, -0.9, -0.8, -0.5, -0.9, -1.3, -1.1, -1.0, -0.8, -0.8, -1.1, -1.4, -1.0, -0.6, -0.9, -1.1, -1.2, -0.9, -1.3, -2.0, -1.1, -1.2, -0.9, -0.7, -1.0, -1.0, -1.2, -0.4, -0.8, -1.3, -1.0, -0.8, -1.1, -1.1, -0.9, -1.6, -1.1, -0.9, -1.2, -0.6, -0.9, -1.2, -0.8, -1.0, -1.3, -0.7, -0.9, -1.4, -1.1, -2.2, -1.2, -0.9, -0.6, -0.2, -0.8, -1.1, -1.0, -0.8],
]
trace_b2_4 = [
    [1.1, 1.25, 0.8, 1.1, 1.4, 1.15, 0.6, 1.0, 1.2, 1.35, 1.0, 1.2, 1.3, 1.05, 0.9, 1.15, 1.5, 1.2, 1.1, 1.3, 0.8, 1.05, 1.2, 1.0, 1.4, 1.15, 1.0, 1.25, 0.9, 1.1, 1.3, 1.05, 1.1, 1.3, 0.7, 1.0, 1.2, 1.1, 1.5, 1.15, 1.0, 1.2, 1.3, 1.0, 0.9, 1.25, 1.1, 1.3, 1.4, 1.1, 0.8, 1.05, 1.2, 1.3, 1.0, 1.2, 1.6, 1.25, 1.1, 1.0, 0.9, 1.15, 1.3, 1.0, 0.45, 0.9, 1.2, 1.1, 1.0, 1.25, 1.4, 1.1, 0.9, 1.2, 1.1, 1.3, 1.6, 1.2, 1.2, 1.0, 0.8, 1.1, 1.3, 1.15, 1.0, 1.3, 1.5, 1.2, 1.1, 0.95, 0.9, 1.1, 1.2, 1.35, 1.4, 1.1, 1.0, 1.2, 0.7, 1.0, 1.3, 1.15, 1.1, 1.3, 1.5, 1.15, 0.9, 1.1, 1.2, 1.0, 1.0, 1.25, 1.4, 1.1, 0.8, 1.0, 1.1, 1.25, 1.3],
    [1.2, 1.05, 1.0, 1.2, 1.4, 1.1, 0.9, 1.15, 1.1, 1.0, 1.3, 1.2, 1.78, 1.2, 1.0, 1.15, 1.2, 1.0, 0.8, 1.1, 1.4, 1.2, 1.1, 1.0, 0.9, 1.15, 1.3, 1.1, 1.5, 1.2, 1.0, 1.3, 1.2, 1.0, 0.7, 1.05, 1.4, 1.2, 1.1, 1.3, 1.6, 1.2, 0.9, 1.1, 1.2, 1.3, 1.0, 1.2, 1.3, 1.05, 0.8, 1.1, 1.1, 1.25, 1.5, 1.15, 1.0, 1.1, 1.2, 1.0, 1.4, 1.2, 0.9, 1.3, 1.88, 1.2, 1.1, 0.9, 0.6, 1.0, 1.3, 1.1, 1.0, 1.25, 1.2, 1.05, 1.5, 1.2, 0.9, 1.1, 1.1, 1.3, 1.4, 1.1, 1.0, 1.2, 1.2, 1.05, 0.8, 1.1, 1.3, 1.1, 1.6, 1.2, 1.0, 1.3, 1.2, 1.0, 0.9, 1.15, 1.4, 1.2, 1.1, 1.0, 1.3, 1.15, 0.8, 1.1, 1.2, 1.3, 1.0, 1.2, 0.65, 1.0, 1.3, 1.2, 1.1, 1.3, 1.65],
    [1.0, 1.15, 1.3, 1.05, 0.6, 1.0, 1.2, 1.1, 1.4, 1.2, 0.9, 1.05, 1.1, 1.25, 1.5, 1.15, 1.0, 1.1, 1.2, 1.05, 0.8, 1.1, 1.3, 1.15, 1.1, 1.2, 0.9, 1.0, 0.5, 1.1, 1.7, 1.25, 1.2, 1.1, 1.0, 1.2, 1.4, 1.15, 0.9, 1.05, 1.1, 1.2, 1.3, 1.1, 0.8, 1.0, 1.2, 1.3, 1.5, 1.2, 1.0, 1.15, 1.1, 1.0, 1.3, 1.2, 0.9, 1.1, 1.6, 1.25, 1.2, 1.05, 1.0, 1.2, 1.4, 1.1, 0.7, 1.0, 1.1, 1.2, 1.3, 1.1, 1.0, 1.15, 1.2, 1.05, 1.5, 1.2, 0.9, 1.1, 1.1, 1.25, 1.4, 1.1, 1.0, 1.2, 1.2, 1.05, 0.8, 1.1, 1.3, 1.15, 1.1, 1.25, 1.5, 1.2, 0.9, 1.05, 1.2, 1.1, 1.0, 1.2, 1.4, 1.15, 0.8, 1.0, 1.2, 1.1, 1.3, 1.15, 1.0, 1.2, 1.1, 1.3, 1.7, 1.15, 1.0, 1.2, 1.5],
    [1.2, 1.05, 0.9, 1.15, 1.3, 1.1, 1.1, 1.2, 1.5, 1.2, 1.0, 1.1, 0.7, 1.0, 1.2, 1.1, 1.4, 1.15, 1.0, 1.2, 0.7, 1.0, 1.3, 1.15, 1.1, 1.2, 0.8, 1.0, 1.2, 1.1, 1.0, 1.2, 1.4, 1.15, 1.1, 1.0, 0.9, 1.15, 1.3, 1.1, 1.0, 1.2, 1.2, 1.05, 1.5, 1.2, 0.9, 1.05, 1.1, 1.2, 1.3, 1.1, 0.8, 1.0, 1.2, 1.1, 1.7, 1.2, 1.0, 1.15, 1.1, 1.2, 1.4, 1.1, 0.9, 1.05, 1.2, 1.1, 1.0, 1.15, 1.3, 1.1, 0.8, 1.0, 1.1, 1.2, 1.5, 1.15, 1.0, 1.1, 1.2, 1.3, 0.9, 1.05, 1.4, 1.2, 1.1, 1.3, 1.88, 1.2, 0.7, 1.0, 1.2, 1.15, 1.0, 1.2, 1.3, 1.1, 0.9, 1.05, 1.1, 1.2, 1.4, 1.15, 1.0, 1.1, 1.2, 1.0, 0.8, 1.05, 1.3, 1.2, 1.1, 1.0, 1.5, 1.2, 0.9, 1.05, 1.2],
]

kde_x = [kde_b1_1_x, kde_b1_2_x, kde_b1_3_x, kde_b1_4_x, kde_b2_1_x, kde_b2_2_x, kde_b2_3_x, kde_b2_4_x]
kde_y = [kde_b1_1, kde_b1_2, kde_b1_3, kde_b1_4, kde_b2_1, kde_b2_2, kde_b2_3, kde_b2_4]
traces = [trace_b1_1, trace_b1_2, trace_b1_3, trace_b1_4, trace_b2_1, trace_b2_2, trace_b2_3, trace_b2_4]


def kde_frame(xs, curves):
    rows = []
    for c, ys in enumerate(curves):
        for x, y in zip(xs, ys):
            if y is not None:
                rows.append((x, y, chains[c]))
    return pd.DataFrame(rows, columns=["value", "density", "chain"])


def trace_frame(curves):
    rows = []
    for c, ys in enumerate(curves):
        draws = np.linspace(0, 999, len(ys))
        for d, y in zip(draws, ys):
            rows.append((d, y, chains[c]))
    return pd.DataFrame(rows, columns=["draw", "value", "chain"])


fig, axes = plt.subplots(8, 2, figsize=(11.87, 15.89), dpi=100)
fig.subplots_adjust(left=0.0126, right=0.9781, top=0.9723, bottom=0.0346,
                    wspace=0.1046, hspace=0.6)

for i in range(8):
    title = f"{var_names[i]}\n{var_index[i]}"

    ax = axes[i, 0]
    sns.lineplot(data=kde_frame(kde_x[i], kde_y[i]), x="value", y="density",
                 hue="chain", hue_order=chains, palette=palette,
                 estimator=None, sort=False, legend=False, lw=1.3, ax=ax)
    ax.set_ylim(-12.4, 105.4)
    ax.set_yticks([])
    ax.axvline(div_value[i], ymin=0, ymax=0.21, color="black", alpha=0.4, lw=1.5)
    ax.set_xlabel("")
    ax.set_ylabel("")
    ax.set_title(title, fontsize=10)

    ax = axes[i, 1]
    sns.lineplot(data=trace_frame(traces[i]), x="draw", y="value",
                 hue="chain", hue_order=chains, palette=palette,
                 estimator=None, sort=False, legend=False, lw=1.0,
                 alpha=0.4, ax=ax)
    ax.set_xlim(0, 999)
    ax.set_ylim(*trace_ylim[i])
    ax.axvline(div_draw, ymin=0, ymax=0.2, color="black", alpha=0.4, lw=1.5)
    ax.set_xlabel("")
    ax.set_ylabel("")
    ax.set_title(title, fontsize=10)

for ax in axes.flat:
    ax.tick_params(labelsize=10)
    for s in ax.spines.values():
        s.set_linewidth(0.9)

plt.savefig("out.png", dpi=100, facecolor="white")
plt.close()
